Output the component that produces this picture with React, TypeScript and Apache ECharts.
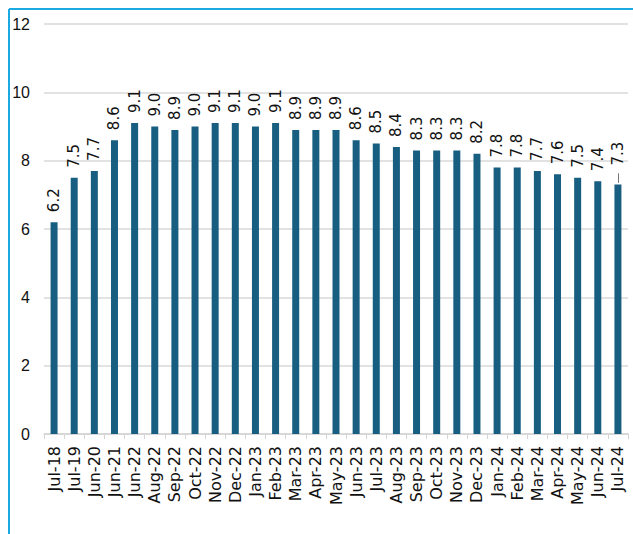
import React, { useEffect, useRef } from "react";
import * as echarts from "echarts";

const categories = [
  "Jul-18", "Jul-19", "Jun-20", "Jun-21", "Jun-22", "Aug-22", "Sep-22", "Oct-22",
  "Nov-22", "Dec-22", "Jan-23", "Feb-23", "Mar-23", "Apr-23", "May-23", "Jun-23",
  "Jul-23", "Aug-23", "Sep-23", "Oct-23", "Nov-23", "Dec-23", "Jan-24", "Feb-24",
  "Mar-24", "Apr-24", "May-24", "Jun-24", "Jul-24",
];
const values = [
  6.2, 7.5, 7.7, 8.6, 9.1, 9.0, 8.9, 9.0, 9.1, 9.1, 9.0, 9.1, 8.9, 8.9, 8.9, 8.6,
  8.5, 8.4, 8.3, 8.3, 8.3, 8.2, 7.8, 7.8, 7.7, 7.6, 7.5, 7.4, 7.3,
];

export default function App() {
  const ref = useRef<HTMLDivElement>(null);
  useEffect(() => {
    document.body.style.margin = "0";
    const chart = echarts.init(ref.current!, null, { renderer: "svg" });
    const last = values.length - 1;
    chart.setOption({
      animation: false,
      grid: { left: 44, right: 5, top: 24, bottom: 100 },
      graphic: [
        { type: "line", shape: { x1: 9, y1: 9, x2: 633, y2: 9 }, style: { stroke: "#1BA9E1", lineWidth: 2 } },
        { type: "line", shape: { x1: 9, y1: 9, x2: 9, y2: 534 }, style: { stroke: "#1BA9E1", lineWidth: 2 } },
      ],
      xAxis: {
        type: "category",
        data: categories,
        axisLine: { lineStyle: { color: "#d4d4d4", width: 1.5 } },
        axisTick: { show: true, length: 5, lineStyle: { color: "#d4d4d4" } },
        axisLabel: {
          rotate: 90,
          interval: 0,
          margin: 12,
          fontSize: 16,
          fontFamily: "DejaVu Sans",
          color: "#111",
        },
      },
      yAxis: {
        type: "value",
        min: 0,
        max: 12,
        interval: 2,
        axisLine: { show: false },
        axisTick: { show: false },
        splitLine: { lineStyle: { color: "#d9d9d9", width: 1.5 } },
        axisLabel: {
          margin: 14,
          fontSize: 16,
          fontFamily: "Liberation Sans Narrow, Liberation Sans",
          color: "#111",
        },
      },
      series: [
        {
          type: "bar",
          data: values,
          barWidth: 7,
          itemStyle: { color: "#175E81" },
          label: {
            show: true,
            position: "top",
            rotate: 90,
            align: "left",
            verticalAlign: "middle",
            distance: 10,
            fontSize: 15,
            fontFamily: "DejaVu Sans",
            color: "#111",
            formatter: (p: any) => Number(p.value).toFixed(1),
          },
          labelLayout: (p: any) => (p.dataIndex === last ? { dx: 9 } : {}),
          markLine: {
            silent: true,
            symbol: "none",
            label: { show: false },
            lineStyle: { color: "#777", width: 1, type: "solid" },
            data: [
              [
                { coord: [categories[last], values[last] + 0.05] },
                { coord: [categories[last], values[last] + 0.33] },
              ],
            ],
          },
        },
      ],
    });
    return () => chart.dispose();
  }, []);
  return <div ref={ref} style={{ width: 633, height: 534 }} />;
}
